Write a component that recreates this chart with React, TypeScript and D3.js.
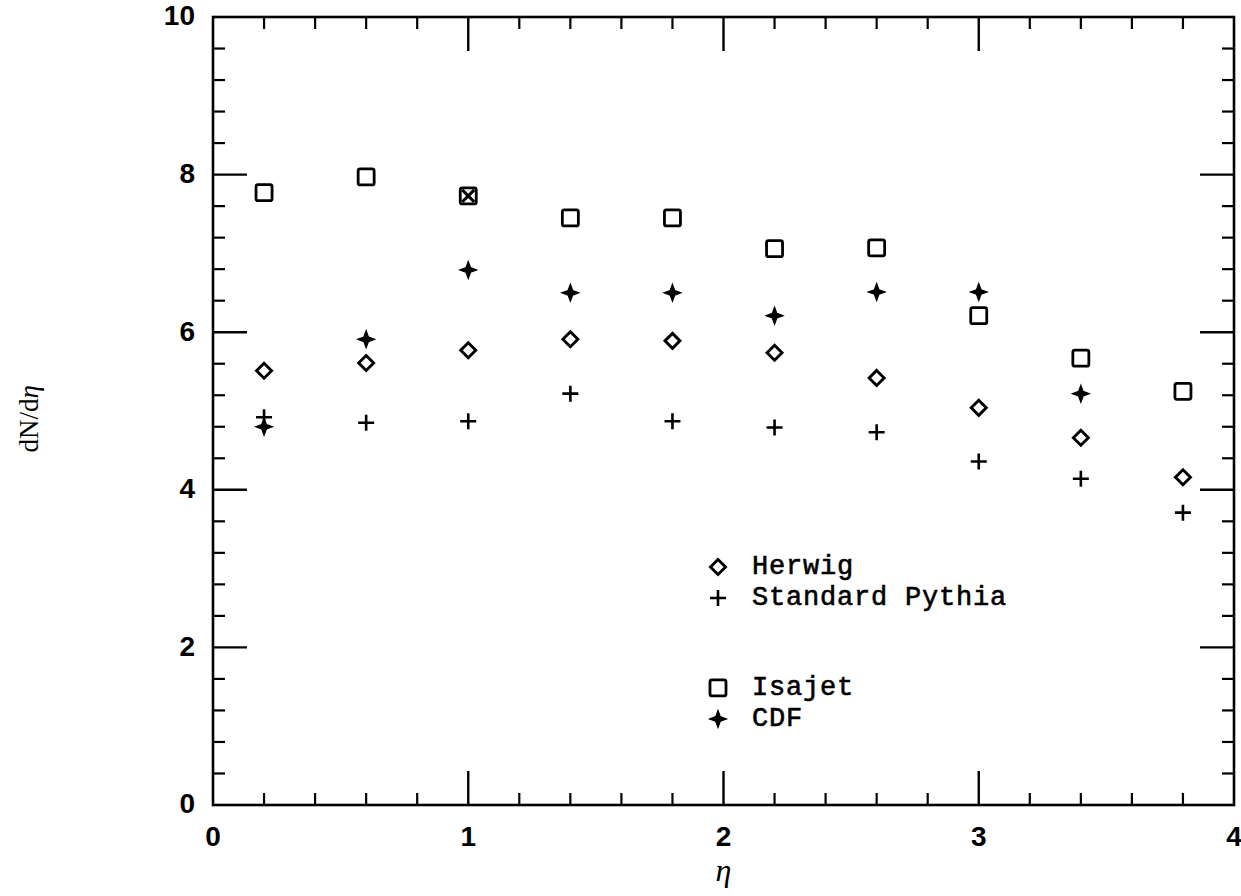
import React from "react";
import * as d3 from "d3";

// eta bins
const eta = [0.2, 0.6, 1.0, 1.4, 1.8, 2.2, 2.6, 3.0, 3.4, 3.8];

// dN/deta per generator / data
const herwig = [5.51, 5.61, 5.77, 5.91, 5.89, 5.74, 5.42, 5.04, 4.66, 4.16];
const pythia = [4.92, 4.85, 4.87, 5.22, 4.87, 4.79, 4.73, 4.36, 4.14, 3.71];
const isajet = [7.77, 7.97, 7.73, 7.45, 7.45, 7.06, 7.07, 6.21, 5.67, 5.25];
const cdf = [4.8, 5.91, 6.79, 6.5, 6.5, 6.21, 6.51, 6.51, 5.22];
const isajetCrossed = [2]; // square drawn with an overlapping X

const xMajor = [0, 1, 2, 3, 4];
const yMajor = [0, 2, 4, 6, 8, 10];

const legendItems = [
  { label: "Herwig", sym: "diamond", row: 0 },
  { label: "Standard Pythia", sym: "plus", row: 1 },
  { label: "Isajet", sym: "square", row: 3.9 },
  { label: "CDF", sym: "star", row: 4.9 },
];

const W = 1241;
const H = 896;
const left = 213, right = 1234, top = 17, bottom = 805;

function Marker({ sym, x, y, crossed }: { sym: string; x: number; y: number; crossed?: boolean }) {
  if (sym === "square") {
    return (
      <g>
        <rect x={x - 8} y={y - 8} width={16} height={16} rx={2} fill="none" stroke="#000" strokeWidth={2.8} />
        {crossed && (
          <path d={`M${x - 6},${y - 6}L${x + 6},${y + 6}M${x + 6},${y - 6}L${x - 6},${y + 6}`} stroke="#000" strokeWidth={3} />
        )}
      </g>
    );
  }
  if (sym === "diamond") {
    const r = 7.5;
    return <path d={`M${x},${y - r}L${x + r},${y}L${x},${y + r}L${x - r},${y}Z`} fill="none" stroke="#000" strokeWidth={2.9} />;
  }
  if (sym === "plus") {
    return <path d={`M${x - 8},${y}L${x + 8},${y}M${x},${y - 8}L${x},${y + 8}`} stroke="#000" strokeWidth={2.6} />;
  }
  // four-point star (CDF)
  const r = 8.5, s = 2.3;
  return (
    <path
      d={`M${x},${y - r}L${x + s},${y - s}L${x + r},${y}L${x + s},${y + s}L${x},${y + r}L${x - s},${y + s}L${x - r},${y}L${x - s},${y - s}Z`}
      fill="#000"
      stroke="#000"
      strokeWidth={1.2}
    />
  );
}

export default function App() {
  const x = d3.scaleLinear().domain([0, 4]).range([left, right]);
  const y = d3.scaleLinear().domain([0, 10]).range([bottom, top]);

  const xMinor = d3.range(0, 4.0001, 0.2).filter((v) => Math.abs(v - Math.round(v)) > 1e-6);
  const yMinor = d3.range(0, 10.0001, 0.4).filter((v) => Math.abs(v / 2 - Math.round(v / 2)) > 1e-6);

  const major = 34, minor = 12;

  return (
    <svg width={W} height={H} style={{ position: "absolute", left: 0, top: 0, background: "#fff" }}>
      <rect x={left} y={top} width={right - left} height={bottom - top} fill="none" stroke="#000" strokeWidth={2.6} />

      {/* x ticks, bottom and top */}
      {xMajor.slice(1, -1).map((v) => (
        <g key={"xM" + v}>
          <line x1={x(v)} x2={x(v)} y1={bottom} y2={bottom - major} stroke="#000" strokeWidth={2.4} />
          <line x1={x(v)} x2={x(v)} y1={top} y2={top + major} stroke="#000" strokeWidth={2.4} />
        </g>
      ))}
      {xMinor.map((v) => (
        <g key={"xm" + v}>
          <line x1={x(v)} x2={x(v)} y1={bottom} y2={bottom - minor} stroke="#000" strokeWidth={2.2} />
          <line x1={x(v)} x2={x(v)} y1={top} y2={top + minor} stroke="#000" strokeWidth={2.2} />
        </g>
      ))}

      {/* y ticks, left and right */}
      {yMajor.slice(1, -1).map((v) => (
        <g key={"yM" + v}>
          <line x1={left} x2={left + major} y1={y(v)} y2={y(v)} stroke="#000" strokeWidth={2.4} />
          <line x1={right} x2={right - major} y1={y(v)} y2={y(v)} stroke="#000" strokeWidth={2.4} />
        </g>
      ))}
      {yMinor.map((v) => (
        <g key={"ym" + v}>
          <line x1={left} x2={left + minor} y1={y(v)} y2={y(v)} stroke="#000" strokeWidth={2.2} />
          <line x1={right} x2={right - minor} y1={y(v)} y2={y(v)} stroke="#000" strokeWidth={2.2} />
        </g>
      ))}

      {/* tick labels */}
      <g style={{ fontFamily: "Liberation Sans, Arial, sans-serif", fontWeight: "bold", fontSize: "28px" }}>
        {xMajor.map((v) => (
          <text key={"xl" + v} x={x(v)} y={bottom + 34} textAnchor="middle" dominantBaseline="middle">
            {v}
          </text>
        ))}
        {yMajor.map((v) => (
          <text key={"yl" + v} x={left - 18} y={y(v) + 1} textAnchor="end" dominantBaseline="middle">
            {v}
          </text>
        ))}
      </g>

      {/* axis titles */}
      <text
        x={x(2)}
        y={881}
        textAnchor="middle"
        style={{ fontFamily: "Liberation Serif, serif", fontStyle: "italic", fontSize: "32px" }}
      >
        η
      </text>
      <text
        transform={`translate(38, ${y(4.9)}) rotate(-90)`}
        textAnchor="middle"
        style={{ fontFamily: "Liberation Serif, serif", fontSize: "27px" }}
      >
        dN/d<tspan fontStyle="italic">η</tspan>
      </text>

      {/* data */}
      {isajet.map((v, i) => (
        <Marker key={"is" + i} sym="square" x={x(eta[i])} y={y(v)} crossed={isajetCrossed.includes(i)} />
      ))}
      {herwig.map((v, i) => (
        <Marker key={"hw" + i} sym="diamond" x={x(eta[i])} y={y(v)} />
      ))}
      {pythia.map((v, i) => (
        <Marker key={"py" + i} sym="plus" x={x(eta[i])} y={y(v)} />
      ))}
      {cdf.map((v, i) => (
        <Marker key={"cdf" + i} sym="star" x={x(eta[i])} y={y(v)} />
      ))}

      {/* legend */}
      {legendItems.map((d) => {
        const ly = 567 + d.row * 31;
        return (
          <g key={"lt" + d.label}>
            <Marker sym={d.sym} x={718} y={ly} />
            <text
              x={752}
              y={ly}
              dominantBaseline="middle"
              stroke="#000"
              strokeWidth={0.6}
              style={{ fontFamily: "Liberation Mono, Courier New, monospace", fontSize: "27px", letterSpacing: "0.8px" }}
            >
              {d.label}
            </text>
          </g>
        );
      })}
    </svg>
  );
}
